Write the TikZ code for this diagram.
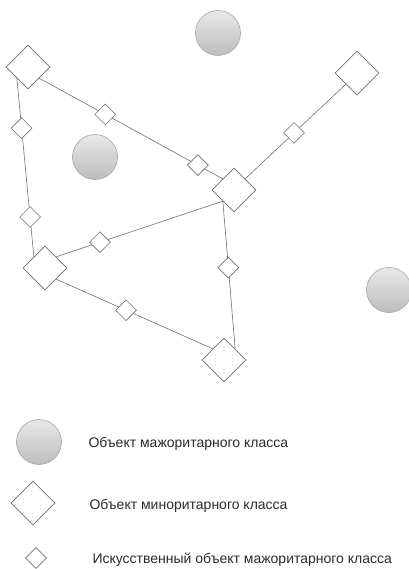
\documentclass[tikz,border=0pt]{standalone}
\usepackage{fontspec}
\setmainfont{Liberation Sans}
\usepackage{xcolor}
\usepackage{tikz}
\usetikzlibrary{shapes.geometric}

\definecolor{edgegray}{HTML}{707070}
\definecolor{majtop}{HTML}{E8E8E8}
\definecolor{majbot}{HTML}{BDBDBD}
\definecolor{majline}{HTML}{A6A6A6}
\definecolor{txtgray}{HTML}{2B2B2B}

\begin{document}
\begin{tikzpicture}[x=1pt, y=-1pt,
  major/.style={circle, draw=majline, line width=0.6pt, top color=majtop, bottom color=majbot, minimum size=45pt, inner sep=0pt},
  minor/.style={diamond, draw=edgegray, line width=0.6pt, fill=white, aspect=1, minimum width=44pt, minimum height=44pt, inner sep=0pt},
  artif/.style={diamond, draw=edgegray, line width=0.6pt, fill=white, aspect=1, minimum width=21pt, minimum height=21pt, inner sep=0pt},
  link/.style={draw=edgegray, line width=0.6pt},
  legend/.style={anchor=west, text=txtgray, font=\fontsize{14}{16}\selectfont}
]
\useasboundingbox (0,0) rectangle (408,569);
% objects of the majority class
\node[major] (maj1) at (218,33) {};
\node[major] (maj2) at (95,157) {};
\node[major] (maj3) at (389,290) {};
% objects of the minority class
\node[minor] (min1) at (28,67) {};
\node[minor] (min2) at (357,73) {};
\node[minor] (min3) at (234,190) {};
\node[minor] (min4) at (45,268) {};
\node[minor] (min5) at (224,360) {};
% links with artificial objects
\draw[link] (min1.south east) -- node[artif, pos=0.36] (art1) {} node[artif, pos=0.864] (art2) {} (min3.north west);
\draw[link] (min3.north east) -- node[artif, pos=0.485] (art3) {} (min2.south west);
\draw[link] (min1.south west) -- node[artif, pos=0.28] (art4) {} node[artif, pos=0.777] (art5) {} (min4.north west);
\draw[link] (min4.north east) -- node[artif, pos=0.263] (art6) {} (min3.south west);
\draw[link] (min3.south west) -- node[artif, pos=0.45] (art7) {} (min5.north east);
\draw[link] (min4.south east) -- node[artif, pos=0.446] (art8) {} (min5.north west);
% legend
\node[major] (key1) at (39,442) {};
\node[minor] (key2) at (33,503) {};
\node[artif] (key3) at (36,558) {};
\node[legend] (lab1) at (85,444) {Объект мажоритарного класса};
\node[legend] (lab2) at (86,506) {Объект миноритарного класса};
\node[legend] (lab3) at (89,560) {Искусственный объект мажоритарного класса};
\end{tikzpicture}
\end{document}
